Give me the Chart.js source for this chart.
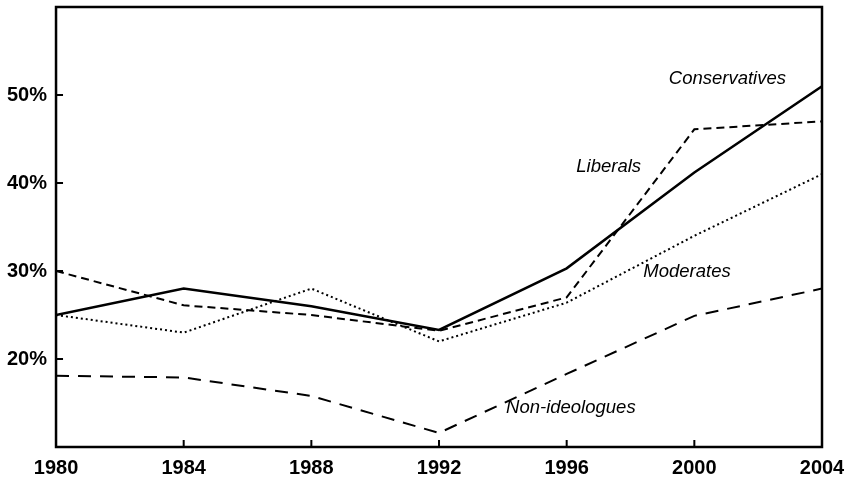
<!DOCTYPE html>
<html>
<head>
<meta charset="utf-8">
<script src="https://cdn.jsdelivr.net/npm/chart.js@4"></script>
<style>
  body { margin: 0; background: #fff; }
  #wrap { width: 848px; height: 483px; }
</style>
</head>
<body>
<div id="wrap"><canvas id="ideologyChart"></canvas></div>
<script>
// values, percent
const years = [1980, 1984, 1988, 1992, 1996, 2000, 2004];
const conservatives = [25, 28, 26, 23.3, 30.3, 41.2, 51];
const liberals = [30, 26.1, 25, 23.2, 27, 46.1, 47];
const moderates = [25, 23, 28, 22, 26.4, 34, 41];
const nonIdeologues = [18.1, 17.9, 15.8, 11.6, 18.3, 24.9, 28];

const yTicks = [20, 30, 40, 50];

// where each series name is written, in data units (year, percent)
const seriesLabels = [
    { text: "Conservatives", x: 1999.2, y: 51.8 },
    { text: "Liberals", x: 1996.3, y: 41.8 },
    { text: "Moderates", x: 1998.4, y: 29.9 },
    { text: "Non-ideologues", x: 1994.1, y: 14.4 }
];

function toPoints(vals) {
    return years.map((yr, i) => ({ x: yr, y: vals[i] }));
}

// frame, inward tick marks and the italic series names
const framePlugin = {
    id: "frame",
    afterDraw(chart) {
        const ctx = chart.ctx;
        const a = chart.chartArea;
        const xs = chart.scales.x;
        const ys = chart.scales.y;
        ctx.save();
        ctx.strokeStyle = "#000";
        ctx.lineWidth = 2.5;
        ctx.strokeRect(a.left, a.top, a.right - a.left, a.bottom - a.top);

        ctx.lineWidth = 2;
        ctx.beginPath();
        years.slice(1, -1).forEach(yr => {
            const px = xs.getPixelForValue(yr);
            ctx.moveTo(px, a.bottom);
            ctx.lineTo(px, a.bottom - 7);
        });
        yTicks.forEach(v => {
            const py = ys.getPixelForValue(v);
            ctx.moveTo(a.left, py);
            ctx.lineTo(a.left + 7, py);
        });
        ctx.stroke();

        ctx.fillStyle = "#000";
        ctx.font = "italic 18.5px 'Liberation Sans', Arial, sans-serif";
        ctx.textAlign = "left";
        ctx.textBaseline = "middle";
        seriesLabels.forEach(l => {
            ctx.fillText(l.text, xs.getPixelForValue(l.x), ys.getPixelForValue(l.y));
        });
        ctx.restore();
    }
};

// let the layout padding alone decide where the plot edges sit
function noEdgePadding(axis) {
    axis.paddingTop = 0;
    axis.paddingBottom = 0;
    axis.paddingLeft = 0;
    axis.paddingRight = 0;
}

const tickFont = { family: "'Liberation Sans', Arial, sans-serif", size: 20, weight: "bold" };

const base = {
    borderColor: "#000",
    backgroundColor: "#000",
    fill: false,
    tension: 0,
    pointRadius: 0,
    borderWidth: 2
};

new Chart(document.getElementById("ideologyChart"), {
    type: "line",
    data: {
        datasets: [
            { ...base, label: "Conservatives", data: toPoints(conservatives), borderWidth: 2.5 },
            { ...base, label: "Liberals", data: toPoints(liberals), borderDash: [8, 5] },
            { ...base, label: "Moderates", data: toPoints(moderates), borderDash: [2, 3] },
            { ...base, label: "Non-ideologues", data: toPoints(nonIdeologues), borderDash: [13, 9] }
        ]
    },
    options: {
        responsive: true,
        maintainAspectRatio: false,
        animation: false,
        layout: { padding: { left: -2, right: 26, top: 7, bottom: -6 } },
        plugins: {
            legend: { display: false },
            tooltip: { enabled: false }
        },
        scales: {
            x: {
                type: "linear",
                min: 1980,
                max: 2004,
                grid: { display: false, drawTicks: false },
                border: { display: false },
                afterBuildTicks: axis => { axis.ticks = years.map(v => ({ value: v })); },
                afterFit: noEdgePadding,
                ticks: {
                    padding: 9,
                    color: "#000",
                    font: tickFont,
                    callback: v => String(v)
                }
            },
            y: {
                min: 10,
                max: 60,
                grid: { display: false, drawTicks: false },
                border: { display: false },
                afterBuildTicks: axis => { axis.ticks = yTicks.map(v => ({ value: v })); },
                afterFit: noEdgePadding,
                ticks: {
                    padding: 9,
                    color: "#000",
                    font: tickFont,
                    callback: v => v + "%"
                }
            }
        }
    },
    plugins: [framePlugin]
});
</script>
</body>
</html>
